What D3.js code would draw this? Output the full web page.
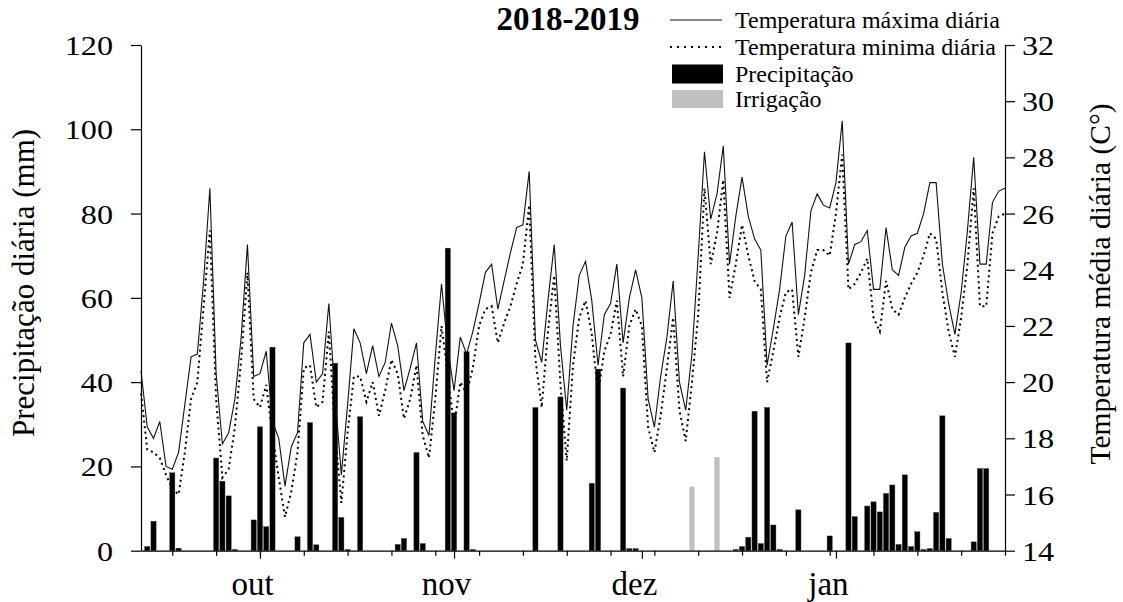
<!DOCTYPE html>
<html><head><meta charset="utf-8">
<script src="https://cdn.jsdelivr.net/npm/d3@7/dist/d3.min.js"></script>
<style>
body{margin:0;background:#fff}
svg{display:block}
</style>
</head><body>
<svg id="c" width="1123" height="602"></svg>
<script>
// ---------- DATA ----------
const startDate = "2018-09-12";
const endDate = "2019-01-28";
// daily maximum temperature (°C), one value per day from startDate
const tempMax = [20.4,18.4,18.0,18.6,17.0,16.9,17.5,19.2,20.9,21.0,23.6,26.9,20.3,17.8,18.2,19.4,21.6,24.9,20.2,20.3,
21.1,18.6,18.0,16.3,17.7,18.2,21.4,21.7,20.0,20.3,22.8,19.5,16.7,19.2,21.9,21.4,20.3,21.3,20.2,20.7,
22.1,21.3,19.7,20.5,21.4,18.6,18.1,20.9,23.5,21.2,19.7,21.6,21.0,21.8,22.8,23.9,24.2,22.6,23.6,24.6,
25.5,25.6,27.5,21.5,20.7,22.9,24.9,21.3,19.0,22.0,23.8,24.3,22.9,20.6,22.4,22.8,24.2,21.4,23.0,24.0,
23.0,19.4,18.4,20.2,21.6,23.6,20.0,19.0,21.0,24.5,28.2,25.8,26.7,28.4,24.2,25.9,27.3,25.9,25.1,24.7,
20.6,21.9,23.3,25.2,25.7,22.4,23.8,26.1,26.7,26.3,26.2,27.1,29.3,24.2,24.9,25.0,25.4,23.3,23.3,25.5,
24.0,23.8,24.8,25.2,25.3,26.0,27.1,27.1,24.2,22.8,21.7,23.2,25.4,28.0,24.2,24.2,26.4,26.8,26.9];
// daily minimum temperature (°C)
const tempMin = [19.6,17.6,17.5,17.3,16.7,16.2,16.0,17.5,19.4,20.0,22.7,25.4,19.4,16.6,16.9,18.4,20.8,23.9,19.4,19.1,
19.9,18.1,16.6,15.2,16.1,17.5,20.5,20.6,19.1,19.3,21.8,18.2,15.7,18.2,20.2,20.2,19.3,20.0,18.8,19.7,
20.8,20.3,18.7,19.4,20.6,18.1,17.3,19.4,22.0,20.3,18.4,20.0,19.6,20.5,22.0,22.6,22.7,21.4,22.1,22.7,
23.5,24.2,26.3,20.8,19.1,21.8,23.8,19.9,17.2,20.6,22.3,22.9,21.7,19.6,21.1,21.7,22.9,20.2,22.0,22.6,
22.0,18.4,17.5,18.8,20.5,22.3,19.0,17.9,20.0,22.4,26.9,24.2,25.3,27.2,23.0,24.2,25.6,24.5,23.6,23.3,
20.0,21.1,22.3,23.2,23.3,20.9,22.3,23.9,24.7,24.7,24.5,26.0,28.1,23.3,23.5,23.9,24.4,22.3,21.8,23.6,
22.6,22.4,23.0,23.5,23.9,24.5,25.3,25.1,23.2,21.8,20.9,22.3,24.2,26.9,22.7,22.7,25.3,25.9,26.0];
// precipitation (mm)
const rainDates = ["2018-09-13","2018-09-14","2018-09-17","2018-09-18","2018-09-24","2018-09-25","2018-09-26","2018-09-27",
"2018-09-30","2018-10-01","2018-10-02","2018-10-03","2018-10-07","2018-10-09","2018-10-10","2018-10-13","2018-10-14",
"2018-10-15","2018-10-17","2018-10-23","2018-10-24","2018-10-26","2018-10-27","2018-10-31","2018-11-01","2018-11-03",
"2018-11-04","2018-11-14","2018-11-18","2018-11-23","2018-11-24","2018-11-28","2018-11-29","2018-11-30","2018-12-16",
"2018-12-17","2018-12-18","2018-12-19","2018-12-20","2018-12-21","2018-12-22","2018-12-23","2018-12-26","2018-12-31",
"2019-01-03","2019-01-04","2019-01-06","2019-01-07","2019-01-08","2019-01-09","2019-01-10","2019-01-11","2019-01-12",
"2019-01-13","2019-01-14","2019-01-15","2019-01-16","2019-01-17","2019-01-18","2019-01-19","2019-01-23","2019-01-24","2019-01-25"];
const rainMm = [1,7,18.5,0.6,22,16.5,13,0.3,
7.3,29.4,5.7,48.3,3.3,30.4,1.4,44.5,7.9,
0.3,31.8,1.5,2.9,23.3,1.7,71.8,32.7,47.2,
0.3,34,36.5,16,43.1,38.6,0.5,0.5,0.3,
1,3.2,33.1,1.7,34,6.1,0.3,9.7,3.5,
49.3,8.1,10.6,11.6,9.2,13.6,15.6,1.5,18,
1,4.5,0.3,0.5,9.1,32,2.9,2.1,19.5,19.5];
// irrigation (mm)
const irrDates = ["2018-12-09","2018-12-13"];
const irrMm = [15.2,22.2];
// axis ticks
const precipTicks = [0,20,40,60,80,100,120];
const tempTicks = [14,16,18,20,22,24,26,28,30,32];
const monthStarts = ["2018-10-01","2018-11-01","2018-12-01","2019-01-01"];
const monthLabels = ["out","nov","dez","jan"];
const legendLabels = ["Temperatura máxima diária","Temperatura minima diária","Precipitação","Irrigação"];
const titleText = "2018-2019";
const yLeftTitle = "Precipitação diária (mm)";
const yRightTitle = "Temperatura média diária (C°)";

// ---------- CHART ----------
const FONT = "'Liberation Serif','Times New Roman',serif";
const svg = d3.select("#c");
const parse = d3.utcParse("%Y-%m-%d");
const L=141, R=1005, T=45, B=550.7;
const x = d3.scaleUtc().domain([parse(startDate), parse(endDate)]).range([L, R]);
const yP = d3.scaleLinear().domain([0,120]).range([B, T]);
const yT = d3.scaleLinear().domain([14,32]).range([B, T]);
const days = tempMax.map((_, i) => d3.utcDay.offset(parse(startDate), i));
const barW = 5.2;
const SX = 1.15; // horizontal stretch of tick labels

// bars
svg.append("g").selectAll("rect").data(irrDates.map((d,i)=>({d:parse(d),v:irrMm[i]})))
  .join("rect").attr("x",d=>x(d.d)-barW/2).attr("width",barW)
  .attr("y",d=>yP(d.v)).attr("height",d=>B-yP(d.v)).attr("fill","#c0c0c0");
svg.append("g").selectAll("rect").data(rainDates.map((d,i)=>({d:parse(d),v:rainMm[i]})))
  .join("rect").attr("x",d=>x(d.d)-barW/2).attr("width",barW)
  .attr("y",d=>yP(d.v)).attr("height",d=>B-yP(d.v)).attr("fill","#000")
  .attr("stroke","#444").attr("stroke-width",0.4);

// lines
const line = d3.line().x((d,i)=>x(days[i])).y(d=>yT(d));
svg.append("path").datum(tempMin).attr("d",line).attr("fill","none")
  .attr("stroke","#000").attr("stroke-width",2).attr("stroke-dasharray","2,3.5");
svg.append("path").datum(tempMax).attr("d",line).attr("fill","none")
  .attr("stroke","#111").attr("stroke-width",1.1);

// axes
const axStyle = g => { g.selectAll("path,line").attr("stroke","#000").attr("stroke-width",1.2); };
const gl = svg.append("g").attr("transform",`translate(${L},0)`)
  .call(d3.axisLeft(yP).tickValues(precipTicks).tickSize(10).tickSizeOuter(0).tickPadding(18)).call(axStyle);
gl.selectAll("text").style("font-family",FONT).style("font-size","28px").attr("dy","0.34em")
  .attr("x",-28/SX).attr("transform",`scale(${SX},1)`);
const gr = svg.append("g").attr("transform",`translate(${R},0)`)
  .call(d3.axisRight(yT).tickValues(tempTicks).tickSize(10).tickSizeOuter(0).tickPadding(7)).call(axStyle);
gr.selectAll("text").style("font-family",FONT).style("font-size","28px").attr("dy","0.34em")
  .attr("x",17/SX).attr("transform",`scale(${SX},1)`);

const mondays = d3.utcMonday.range(parse(startDate), d3.utcDay.offset(parse(endDate),1));
svg.append("g").attr("transform",`translate(0,${B})`)
  .call(d3.axisBottom(x).tickValues(mondays).tickSize(5).tickSizeOuter(0).tickFormat("")).call(axStyle);
const gm = svg.append("g").attr("transform",`translate(0,${B})`)
  .call(d3.axisBottom(x).tickValues(monthStarts.map(parse)).tickSize(8).tickSizeOuter(0)
    .tickFormat((d,i)=>monthLabels[i]).tickPadding(36)).call(axStyle);
gm.select(".domain").remove();
gm.selectAll("text").style("font-family",FONT).style("font-size","33px").attr("dx",-8).attr("dy","0");

// axis titles
svg.append("text").attr("transform",`translate(34,283) rotate(-90)`)
  .attr("text-anchor","middle").style("font-family",FONT).style("font-size","31px").text(yLeftTitle);
svg.append("text").attr("transform",`translate(1110,284) rotate(-90)`)
  .attr("text-anchor","middle").style("font-family",FONT).style("font-size","29.5px").text(yRightTitle);

// title
svg.append("text").attr("x",568).attr("y",30).attr("text-anchor","middle")
  .style("font-family",FONT).style("font-size","33px").style("font-weight","bold").text(titleText);

// legend
const lx0=670, lx1=722, tx=735, rows=[20,47,74,99];
const lg = svg.append("g");
lg.append("line").attr("x1",lx0).attr("x2",lx1).attr("y1",rows[0]).attr("y2",rows[0]).attr("stroke","#111").attr("stroke-width",1.1);
lg.append("line").attr("x1",lx0).attr("x2",lx1).attr("y1",rows[1]).attr("y2",rows[1]).attr("stroke","#000").attr("stroke-width",2).attr("stroke-dasharray","2,5");
lg.append("rect").attr("x",lx0+2).attr("y",rows[2]-9.5).attr("width",lx1-lx0-1).attr("height",19).attr("fill","#000");
lg.append("rect").attr("x",lx0+2).attr("y",rows[3]-9).attr("width",lx1-lx0-1).attr("height",18).attr("fill","#c0c0c0");
legendLabels.forEach((t,i)=>{
  lg.append("text").attr("x",tx).attr("y",rows[i]+8).style("font-family",FONT).style("font-size","24px").text(t);
});
</script>
</body></html>
